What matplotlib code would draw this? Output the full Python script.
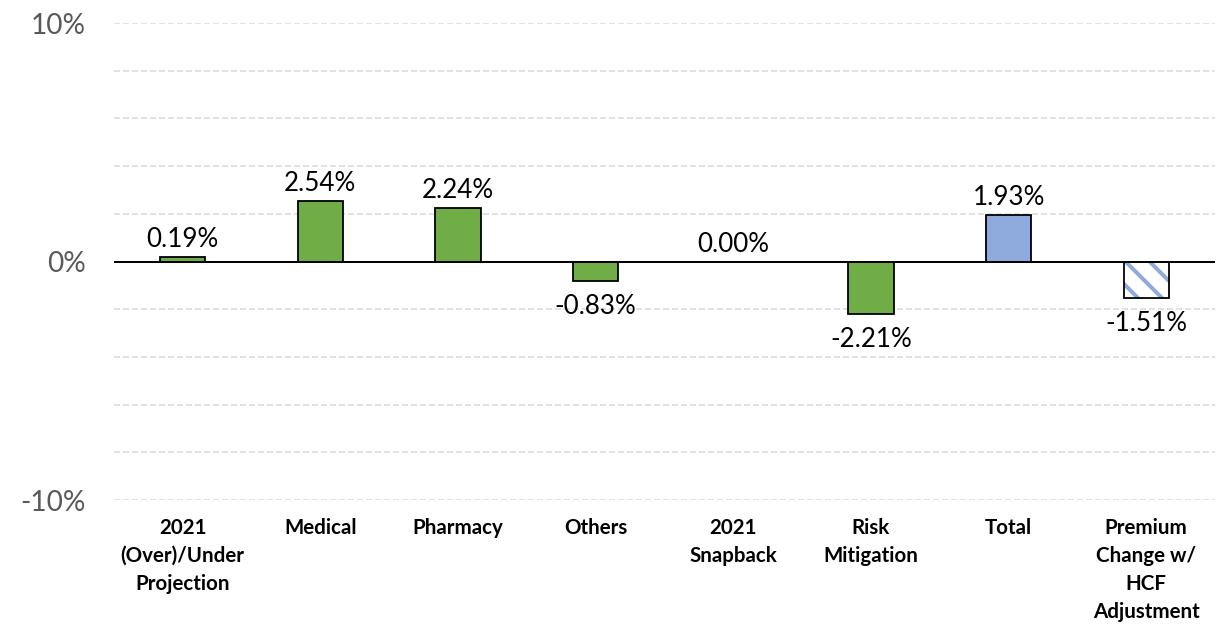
import matplotlib
matplotlib.use("Agg")
import matplotlib.pyplot as plt

categories = ["2021\n(Over)/Under\nProjection", "Medical", "Pharmacy", "Others",
              "2021\nSnapback", "Risk\nMitigation", "Total",
              "Premium\nChange w/\nHCF\nAdjustment"]
values = [0.19, 2.54, 2.24, -0.83, 0.00, -2.21, 1.93, -1.51]
bar_colors = ["#70AD47"] * 6 + ["#8FAADC", "white"]
yticks = [-10, 0, 10]

# at 72 dpi one point is one pixel, which also makes the hatch spacing 12px
DPI = 72
plt.rcParams["font.family"] = ["Lato", "DejaVu Sans"]
plt.rcParams["hatch.linewidth"] = 4.0

fig = plt.figure(figsize=(1223 / DPI, 631 / DPI), dpi=DPI)
ax = fig.add_axes([0.093, 0.2076, 0.9005, 0.7559])

x = list(range(len(values)))
w = 0.33

# gridlines every 2%
for g in range(-10, 11, 2):
    if g == 0:
        continue
    ax.axhline(g, color="#D9D9D9", lw=1.5, ls=(0, (4, 2)), zorder=0)
ax.axhline(0, color="black", lw=2, zorder=3)

ax.bar(x[:-1], values[:-1], width=w, color=bar_colors[:-1],
       edgecolor="black", linewidth=1.8, zorder=2)
# hatched last bar: blue stripes, black outline
ax.bar(x[-1], values[-1], width=w, color="white", edgecolor="#8FAADC",
       hatch="\\", linewidth=0, zorder=2)
ax.bar(x[-1], values[-1], width=w, fill=False, edgecolor="black",
       linewidth=1.8, zorder=2)

for xi, v in zip(x, values):
    if v >= 0:
        ax.annotate(f"{v:.2f}%", (xi, v), xytext=(0, 5), textcoords="offset points",
                    ha="center", va="bottom", fontsize=26, color="black")
    else:
        ax.annotate(f"{v:.2f}%", (xi, v), xytext=(0, -13), textcoords="offset points",
                    ha="center", va="top", fontsize=26, color="black")

ax.set_xlim(-0.5, len(values) - 0.5)
ax.set_ylim(-10, 10)
ax.set_yticks(yticks)
ax.set_yticklabels([f"{t}%" for t in yticks], fontsize=28, color="#595959")
ax.set_xticks(x)
ax.set_xticklabels(categories, fontsize=20.5, fontweight="bold", linespacing=1.5,
                   va="top")
ax.tick_params(axis="both", length=0)
ax.tick_params(axis="y", pad=28)
ax.tick_params(axis="x", pad=18)
for s in ax.spines.values():
    s.set_visible(False)

fig.savefig("out.png", dpi=DPI)
